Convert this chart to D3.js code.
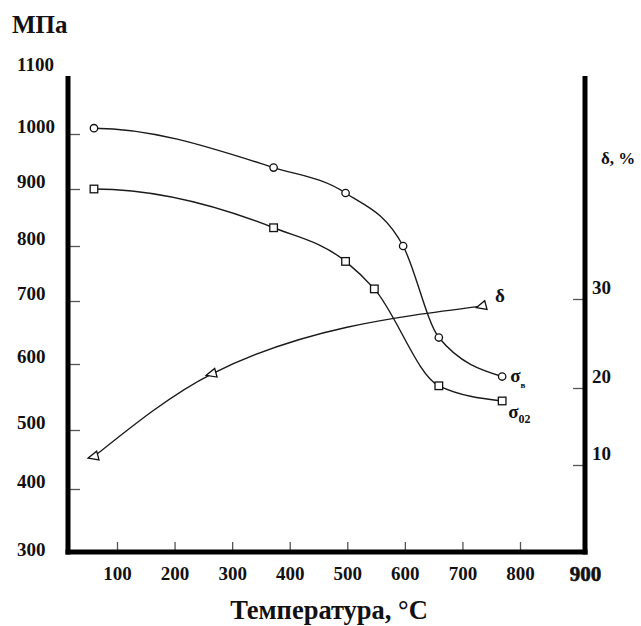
<!DOCTYPE html>
<html>
<head>
<meta charset="utf-8">
<script src="https://cdn.jsdelivr.net/npm/d3@7"></script>
<style>
  html, body { margin: 0; padding: 0; background: #fff; }
  svg text { font-family: "Liberation Serif", "DejaVu Serif Condensed", "DejaVu Serif", serif; font-weight: bold; fill: #111; }
</style>
</head>
<body>
<svg id="chart" width="641" height="626"></svg>
<script>
// Temperature, °C
const tempSigmaB = [60, 372, 497, 597, 659, 769];
const sigmaB     = [1010, 939, 893, 800, 642, 581];      // σв, МПа
const tempSigma02 = [60, 372, 497, 547, 659, 769];
const sigma02     = [900, 832, 772, 722, 567, 544];      // σ0,2, МПа
const tempDelta = [60, 265, 734];
const delta     = [11.1, 21.6, 29.2];                    // δ, %

// Axis tick labels
const stressTicks = [300, 400, 500, 600, 700, 800, 900, 1000, 1100];
const tempTicks = [100, 200, 300, 400, 500, 600, 700, 800, 900];
const deltaTicks = [10, 20, 30];

const svg = d3.select("#chart");

// Frame of the plot
const frameLeft = 68, frameRight = 585, frameTop = 76, frameBottom = 552;

// Scales follow the hand-spaced graduations of the original plot
const x = d3.scaleLinear().domain([100, 800, 900]).range([117, 520, frameRight]);
const y = d3.scaleLinear()
  .domain([300, 400, 500, 600, 700, 800, 900, 1000, 1100])
  .range([frameBottom, 489, 430, 364, 301, 246, 189, 134, frameTop]);
const yd = d3.scaleLinear().domain([0, 10, 20, 30]).range([frameBottom, 465, 388, 299]);

// Monotone cubic curve (Fritsch–Carlson tangents, as in d3.curveMonotoneX)
// whose first tangent is horizontal, so the strength curves leave room
// temperature flat.
function curveMonotoneFlatStart(context) {
  let xs, ys;
  return {
    areaStart() {}, areaEnd() {},
    lineStart() { xs = []; ys = []; },
    point(px, py) { xs.push(+px); ys.push(+py); },
    lineEnd() {
      const n = xs.length;
      if (!n) return;
      context.moveTo(xs[0], ys[0]);
      if (n === 1) return;
      const h = [], s = [];
      for (let i = 0; i < n - 1; i++) {
        h.push(xs[i + 1] - xs[i]);
        s.push((ys[i + 1] - ys[i]) / h[i]);
      }
      const m = new Array(n);
      m[0] = 0;
      for (let i = 1; i < n - 1; i++) {
        const s0 = s[i - 1], s1 = s[i];
        const p = (s0 * h[i] + s1 * h[i - 1]) / (h[i - 1] + h[i]);
        m[i] = (Math.sign(s0) + Math.sign(s1)) * Math.min(Math.abs(s0), Math.abs(s1), 0.5 * Math.abs(p)) || 0;
      }
      m[n - 1] = n > 2 ? (3 * s[n - 2] - m[n - 2]) / 2 : s[0];
      for (let i = 0; i < n - 1; i++) {
        const dx = h[i] / 3;
        context.bezierCurveTo(xs[i] + dx, ys[i] + m[i] * dx,
                              xs[i + 1] - dx, ys[i + 1] - m[i + 1] * dx,
                              xs[i + 1], ys[i + 1]);
      }
    }
  };
}

// ---- axes ----
const tickColor = "#555";

// left (stress) axis
const gLeft = svg.append("g").attr("transform", `translate(${frameLeft},0)`)
  .call(d3.axisLeft(y).tickValues(stressTicks).tickSize(-12).tickFormat(d3.format("d")));
gLeft.select(".domain").remove();
gLeft.selectAll(".tick line").attr("stroke", tickColor).attr("stroke-width", 1.3)
  .attr("display", d => (d === 300 || d === 1100) ? "none" : null);
gLeft.selectAll(".tick text")
  .attr("x", 17 - frameLeft).attr("text-anchor", "start")
  .attr("y", d => d === 1100 ? -12 : d === 300 ? -3 : -8)
  .attr("dy", "0.35em")
  .style("font-size", "19px");

// bottom (temperature) axis
const gBottom = svg.append("g").attr("transform", `translate(0,${frameBottom})`)
  .call(d3.axisBottom(x).tickValues(tempTicks).tickSize(-10).tickFormat(d3.format("d")));
gBottom.select(".domain").remove();
gBottom.selectAll(".tick line").attr("stroke", tickColor).attr("stroke-width", 1.3)
  .attr("display", d => d === 900 ? "none" : null);
gBottom.selectAll(".tick text")
  .attr("y", d => d === 900 ? 29 : 28).attr("dy", 0)
  .style("font-size", d => d === 900 ? "21px" : "19px")
  .style("stroke", d => d === 900 ? "#111" : null)
  .style("stroke-width", d => d === 900 ? 0.6 : null);

// right (elongation) axis
const gRight = svg.append("g").attr("transform", `translate(${frameRight},0)`)
  .call(d3.axisRight(yd).tickValues(deltaTicks).tickSize(-12).tickFormat(d3.format("d")));
gRight.select(".domain").remove();
gRight.selectAll(".tick line").attr("stroke", tickColor).attr("stroke-width", 1.3);
gRight.selectAll(".tick text")
  .attr("x", 7).attr("text-anchor", "start")
  .attr("y", -12).attr("dy", "0.35em")
  .style("font-size", "19px");

// heavy frame lines
const frame = svg.append("g").attr("stroke", "#000").attr("stroke-width", 5).attr("fill", "none");
frame.append("line").attr("x1", frameLeft).attr("x2", frameLeft).attr("y1", frameTop).attr("y2", frameBottom + 2.5);
frame.append("line").attr("x1", frameLeft - 2.5).attr("x2", frameRight + 2.5).attr("y1", frameBottom).attr("y2", frameBottom);
frame.append("line").attr("x1", frameRight).attr("x2", frameRight).attr("y1", frameTop).attr("y2", frameBottom + 2.5);

// ---- curves ----
const lineStress = d3.line().x(d => x(d[0])).y(d => y(d[1])).curve(curveMonotoneFlatStart);
const lineDelta = d3.line().x(d => x(d[0])).y(d => yd(d[1])).curve(d3.curveMonotoneX);

const ptsB = tempSigmaB.map((t, i) => [t, sigmaB[i]]);
const pts02 = tempSigma02.map((t, i) => [t, sigma02[i]]);
const ptsD = tempDelta.map((t, i) => [t, delta[i]]);

const curves = svg.append("g").attr("fill", "none").attr("stroke", "#1a1a1a").attr("stroke-width", 1.4);
curves.append("path").attr("d", lineStress(ptsB));
curves.append("path").attr("d", lineStress(pts02));
curves.append("path").attr("d", lineDelta(ptsD));

// ---- markers ----
const marks = svg.append("g").attr("fill", "#fff").attr("stroke", "#111").attr("stroke-width", 1.3);
marks.selectAll("circle").data(ptsB).join("circle")
  .attr("cx", d => x(d[0])).attr("cy", d => y(d[1])).attr("r", 3.7);
marks.selectAll("rect").data(pts02).join("rect")
  .attr("x", d => x(d[0]) - 3.8).attr("y", d => y(d[1]) - 3.8)
  .attr("width", 7.6).attr("height", 7.6);
marks.selectAll("path.tri").data(ptsD).join("path").attr("class", "tri")
  .attr("transform", d => `translate(${x(d[0])},${yd(d[1])}) rotate(-15)`)
  .attr("d", "M-6,0 L4,-4.5 L4,4.5 Z");

// ---- labels ----
svg.append("text").attr("x", 12).attr("y", 33).style("font-size", "25px").text("МПа");
svg.append("text").attr("x", 601).attr("y", 164).style("font-size", "17px").text("δ, %");
svg.append("text").attr("x", 329).attr("y", 619).attr("text-anchor", "middle")
  .style("font-size", "26.5px").text("Температура, °C");

const lastB = ptsB[ptsB.length - 1], last02 = pts02[pts02.length - 1], lastD = ptsD[ptsD.length - 1];

const lb = svg.append("text").attr("x", x(lastB[0]) + 8).attr("y", y(lastB[1]) + 5).style("font-size", "19px");
lb.append("tspan").text("σ");
lb.append("tspan").attr("dy", 6).style("font-size", "9px").text("в");

const l02 = svg.append("text").attr("x", x(last02[0]) + 6).attr("y", y(last02[1]) + 17).style("font-size", "19px");
l02.append("tspan").text("σ");
l02.append("tspan").attr("dy", 5).style("font-size", "12px").text("02");

svg.append("text").attr("x", x(lastD[0]) + 13).attr("y", yd(lastD[1]) - 4)
  .style("font-size", "19px").text("δ");
</script>
</body>
</html>
